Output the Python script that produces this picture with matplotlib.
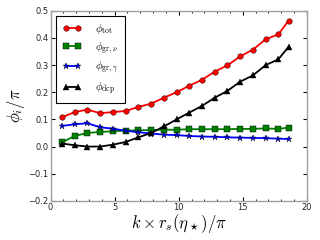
import matplotlib
matplotlib.use("Agg")
import matplotlib.pyplot as plt
from matplotlib.ticker import MultipleLocator

plt.rcParams['mathtext.fontset'] = 'cm'

k = [0.9, 1.88, 2.87, 3.87, 4.86, 5.86, 6.85, 7.84, 8.84, 9.83, 10.82,
     11.82, 12.81, 13.8, 14.79, 15.79, 16.78, 17.77, 18.58]
phi_tot = [0.108, 0.127, 0.136, 0.123, 0.127, 0.131, 0.146, 0.158, 0.180,
           0.200, 0.224, 0.246, 0.276, 0.299, 0.332, 0.357, 0.395, 0.413, 0.464]
phi_gr_nu = [0.016, 0.039, 0.050, 0.054, 0.056, 0.059, 0.060, 0.061, 0.062,
             0.062, 0.064, 0.064, 0.064, 0.064, 0.065, 0.065, 0.067, 0.065, 0.070]
phi_gr_gamma = [0.076, 0.082, 0.086, 0.071, 0.066, 0.058, 0.053, 0.048, 0.044,
                0.042, 0.039, 0.037, 0.036, 0.034, 0.033, 0.032, 0.031, 0.029, 0.028]
phi_dcp = [0.011, 0.005, 0.000, 0.000, 0.007, 0.017, 0.034, 0.050, 0.074,
           0.100, 0.125, 0.150, 0.180, 0.205, 0.239, 0.262, 0.300, 0.321, 0.368]

labels = [r'$\phi_{\rm tot}$', r'$\phi_{{\rm gr},\nu}$',
          r'$\phi_{{\rm gr},\gamma}$', r'$\phi_{\rm dcp}$']
colors = ['red', 'green', 'blue', 'black']
markers = ['o', 's', '*', '^']

fig = plt.figure(figsize=(3.2, 2.4), dpi=100)
ax = fig.add_axes([0.158, 0.163, 0.801, 0.792])

for y, lab, c, m in zip([phi_tot, phi_gr_nu, phi_gr_gamma, phi_dcp], labels, colors, markers):
    ms = 5 if m == '*' else 4
    ax.plot(k, y, color=c, marker=m, markersize=ms, markeredgecolor='black',
            markeredgewidth=0.3, lw=1.3, label=lab)

ax.set_xlim(0, 20)
ax.set_ylim(-0.2, 0.5)
ax.xaxis.set_major_locator(MultipleLocator(5))
ax.xaxis.set_minor_locator(MultipleLocator(1))
ax.tick_params(which='both', direction='in', top=True, right=True, labelsize=6,
               colors='black', labelcolor='#222222', pad=1.5)
ax.tick_params(which='major', length=3, width=0.8)
ax.tick_params(which='minor', length=1.5, width=0.6)
ax.set_yticks([-0.2, -0.1, 0.0, 0.1, 0.2, 0.3, 0.4, 0.5])
ax.set_yticklabels(['\u22120.2', '\u22120.1', '0.0', '0.1', '0.2', '0.3', '0.4', '0.5'])
for s in ax.spines.values():
    s.set_color('#a0a0a0')
    s.set_linewidth(1.0)

ax.set_xlabel(r'$k\times r_s(\eta_\star)/\pi$', fontsize=12, labelpad=0)
ax.set_ylabel(r'$\phi_i/\pi$', fontsize=12, labelpad=1)

leg = ax.legend(loc='upper left', fontsize=8, handlelength=1.7, borderpad=0.6,
                labelspacing=0.35, handletextpad=1.2, fancybox=False,
                numpoints=2, framealpha=1.0, borderaxespad=0.0,
                bbox_to_anchor=(0.022, 0.975))
leg.get_frame().set_edgecolor('black')
leg.get_frame().set_linewidth(0.8)

fig.savefig('out.png', dpi=100)
